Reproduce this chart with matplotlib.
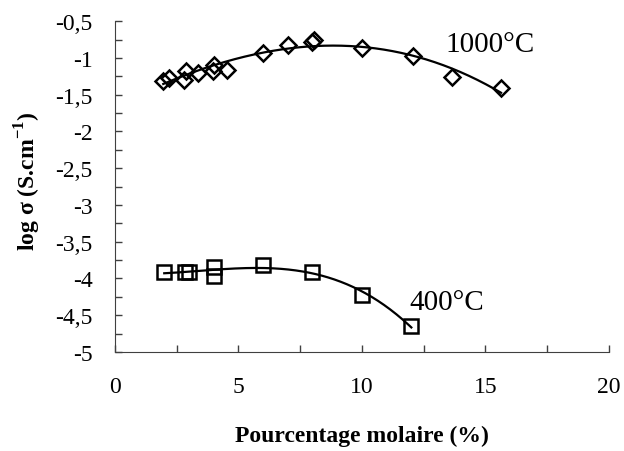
import numpy as np
import matplotlib.pyplot as plt
from matplotlib.ticker import MultipleLocator, FuncFormatter

plt.rcParams['font.family'] = ['Liberation Serif', 'DejaVu Serif']
plt.rcParams['mathtext.fontset'] = 'custom'
plt.rcParams['mathtext.rm'] = 'Liberation Serif'
plt.rcParams['mathtext.bf'] = 'Liberation Serif:bold'

# 1000°C series (diamonds)
x_1000 = [1.96, 2.2, 2.79, 2.89, 3.37, 3.98, 4.02, 4.52, 6.0, 7.02, 8.0, 8.06, 10.0, 12.08, 13.66, 15.63]
y_1000 = [-1.31, -1.27, -1.30, -1.175, -1.20, -1.18, -1.09, -1.16, -0.93, -0.82, -0.79, -0.75, -0.87, -0.97, -1.265, -1.41]

# 400°C series (squares)
x_400 = [2.0, 2.83, 3.0, 4.0, 4.0, 6.0, 8.0, 10.0, 12.0]
y_400 = [-3.91, -3.91, -3.91, -3.85, -3.97, -3.81, -3.91, -4.22, -4.65]

fig = plt.figure(figsize=(6.24, 4.52), dpi=100)
ax = fig.add_axes([0.184, 0.219, 0.792, 0.732])

# polynomial trend lines (like the spreadsheet ones)
p1 = np.polyfit(x_1000, y_1000, 3)
xs1 = np.linspace(min(x_1000), max(x_1000), 200)
ax.plot(xs1, np.polyval(p1, xs1), color='black', lw=1.6)
p2 = np.polyfit(x_400, y_400, 3)
xs2 = np.linspace(min(x_400), max(x_400), 200)
ax.plot(xs2, np.polyval(p2, xs2), color='black', lw=1.6)

ax.plot(x_1000, y_1000, ls='none', marker='D', ms=8.5, mfc='none', mec='black', mew=1.8)
ax.plot(x_400, y_400, ls='none', marker='s', ms=10, mfc='none', mec='black', mew=1.8)

ax.text(15.2, -0.81, '1000°C', fontsize=21, ha='center', va='center')
ax.text(13.45, -4.32, '400°C', fontsize=21, ha='center', va='center')

ax.set_xlim(0, 20)
ax.set_ylim(-5, -0.5)
ax.xaxis.set_major_locator(MultipleLocator(5))
ax.xaxis.set_minor_locator(MultipleLocator(2.5))
ax.yaxis.set_major_locator(MultipleLocator(0.5))
ax.yaxis.set_minor_locator(MultipleLocator(0.25))
ax.yaxis.set_major_formatter(FuncFormatter(lambda v, p: ('%g' % v).replace('.', ',')))
ax.tick_params(which='both', direction='in', length=5, width=1, colors='#404040', labelcolor='black', labelsize=17)
ax.tick_params(axis='x', which='major', pad=17)
ax.tick_params(axis='y', which='major', pad=16)

for s in ['top', 'right']:
    ax.spines[s].set_visible(False)
for s in ['left', 'bottom']:
    ax.spines[s].set_color('#404040')

ax.set_xlabel('Pourcentage molaire (%)', fontsize=17, fontweight='bold', labelpad=20)
ax.set_ylabel('log σ (S.cm$^{\\mathbf{-1}}$)', fontsize=17, fontweight='bold')
ax.yaxis.set_label_coords(-0.145, 0.52)

fig.savefig('out.png', dpi=100)
